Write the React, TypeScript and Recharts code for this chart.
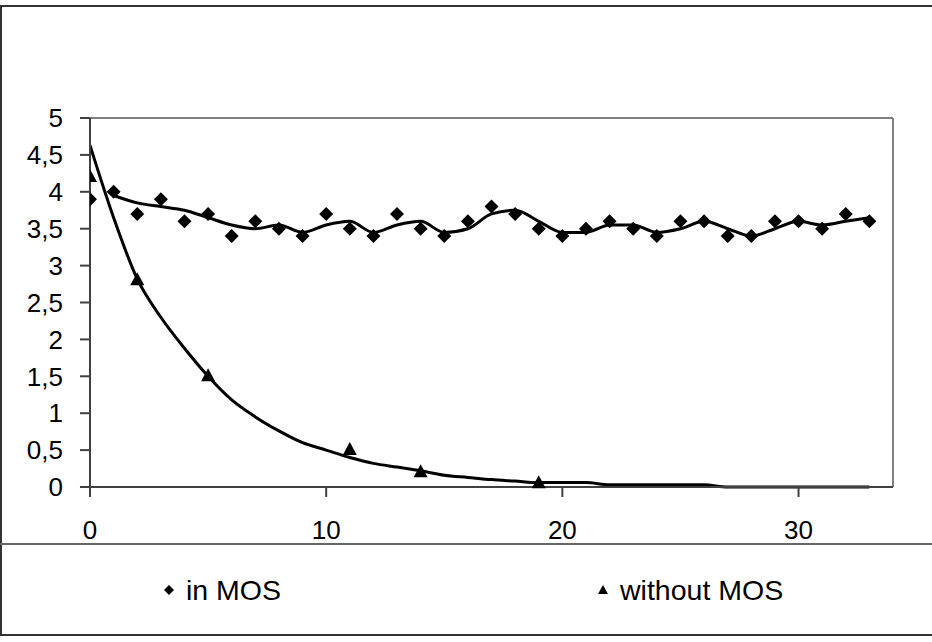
import React from 'react';
import { ComposedChart, Line, Scatter, XAxis, YAxis, ReferenceLine } from 'recharts';

// measurement index (x axis)
const days = [0, 1, 2, 3, 4, 5, 6, 7, 8, 9, 10, 11, 12, 13, 14, 15, 16, 17, 18, 19, 20, 21, 22, 23, 24, 25, 26, 27, 28, 29, 30, 31, 32, 33];
// "in MOS" measured values
const inMos = [3.9, 4.0, 3.7, 3.9, 3.6, 3.7, 3.4, 3.6, 3.5, 3.4, 3.7, 3.5, 3.4, 3.7, 3.5, 3.4, 3.6, 3.8, 3.7, 3.5, 3.4, 3.5, 3.6, 3.5, 3.4, 3.6, 3.6, 3.4, 3.4, 3.6, 3.6, 3.5, 3.7, 3.6];
// "in MOS" trend line, read from x = 1
const inMosTrendDays = [1, 2, 3, 4, 5, 6, 7, 8, 9, 10, 11, 12, 13, 14, 15, 16, 17, 18, 19, 20, 21, 22, 23, 24, 25, 26, 27, 28, 29, 30, 31, 32, 33];
const inMosTrend = [3.95, 3.85, 3.8, 3.75, 3.65, 3.55, 3.5, 3.55, 3.45, 3.55, 3.6, 3.45, 3.55, 3.6, 3.45, 3.5, 3.7, 3.75, 3.6, 3.45, 3.45, 3.55, 3.55, 3.45, 3.5, 3.6, 3.5, 3.4, 3.5, 3.6, 3.55, 3.6, 3.65];
// "without MOS" measured values
const withoutDays = [0, 2, 5, 11, 14, 19];
const withoutMos = [4.2, 2.8, 1.5, 0.5, 0.2, 0.05];
// "without MOS" trend curve
const withoutTrend = [4.63, 3.65, 2.82, 2.3, 1.88, 1.5, 1.18, 0.95, 0.76, 0.6, 0.5, 0.4, 0.32, 0.27, 0.22, 0.16, 0.13, 0.1, 0.08, 0.06, 0.06, 0.06, 0.03, 0.03, 0.03, 0.03, 0.03, 0, 0, 0, 0, 0, 0, 0];

const xTicks = [0, 10, 20, 30];
const yTicks = [0, 0.5, 1, 1.5, 2, 2.5, 3, 3.5, 4, 4.5, 5];

const inMosPoints = days.map((x, i) => ({ x, y: inMos[i] }));
const inMosTrendLine = inMosTrendDays.map((x, i) => ({ x, y: inMosTrend[i] }));
const withoutPoints = withoutDays.map((x, i) => ({ x, y: withoutMos[i] }));
const withoutTrendLine = days.map((x, i) => ({ x, y: withoutTrend[i] }));

const FONT = '"Liberation Sans", Arial, sans-serif';

const Diamond = (props: any) => {
  const { cx, cy } = props;
  const r = 7;
  return <polygon points={`${cx},${cy - r} ${cx + r},${cy} ${cx},${cy + r} ${cx - r},${cy}`} fill="#000" />;
};

const Triangle = (props: any) => {
  const { cx, cy } = props;
  return <polygon points={`${cx},${cy - 8} ${cx + 7},${cy + 5} ${cx - 7},${cy + 5}`} fill="#000" />;
};

const fmt = (v: number) => String(v).replace('.', ',');

export default function App() {
  return (
    <div style={{ position: 'absolute', left: 0, top: 0, width: 932, height: 642, background: '#fff', overflow: 'hidden', fontFamily: FONT }}>
      <div style={{ position: 'absolute', left: 0, top: 5, width: 940, height: 627, border: '2px solid #333' }} />
      <div style={{ position: 'absolute', left: 0, top: 543, width: 932, height: 2, background: '#666' }} />
      <div style={{ position: 'absolute', left: 0, top: 0 }}>
        <ComposedChart width={932} height={642} margin={{ top: 118, right: 39, bottom: 95, left: 30 }}>
          <XAxis
            type="number"
            dataKey="x"
            domain={[0, 34]}
            ticks={xTicks}
            allowDataOverflow
            height={60}
            tickSize={10}
            tickMargin={24}
            stroke="#404040"
            strokeWidth={2}
            tick={{ fill: '#000', fontSize: 26, fontFamily: FONT }}
          />
          <YAxis
            type="number"
            dataKey="y"
            domain={[0, 5]}
            ticks={yTicks}
            width={60}
            tickSize={10}
            tickMargin={17}
            tickFormatter={fmt}
            stroke="#404040"
            strokeWidth={2}
            tick={{ fill: '#000', fontSize: 26, fontFamily: FONT }}
          />
          <ReferenceLine y={5} stroke="#808080" strokeWidth={2} ifOverflow="extendDomain" />
          <ReferenceLine x={34} stroke="#808080" strokeWidth={2} ifOverflow="extendDomain" />
          <Scatter data={inMosPoints} dataKey="y" shape={Diamond} isAnimationActive={false} />
          <Scatter data={withoutPoints} dataKey="y" shape={Triangle} isAnimationActive={false} />
          <Line data={inMosTrendLine} dataKey="y" type="monotone" stroke="#000" strokeWidth={3} dot={false} isAnimationActive={false} />
          <Line data={withoutTrendLine} dataKey="y" type="monotone" stroke="#000" strokeWidth={3} dot={false} isAnimationActive={false} />
        </ComposedChart>
      </div>
      <div style={{ position: 'absolute', left: 160, top: 573, fontSize: 28.5, lineHeight: '34px', display: 'flex', alignItems: 'center' }}>
        <svg width={18} height={18} style={{ marginRight: 8 }}>
          <polygon points="9,4 14,9 9,14 4,9" fill="#000" />
        </svg>
        <span>in MOS</span>
      </div>
      <div style={{ position: 'absolute', left: 594, top: 573, fontSize: 28.5, lineHeight: '34px', display: 'flex', alignItems: 'center' }}>
        <svg width={18} height={18} style={{ marginRight: 8 }}>
          <polygon points="9,4 14,13 4,13" fill="#000" />
        </svg>
        <span>without MOS</span>
      </div>
    </div>
  );
}
